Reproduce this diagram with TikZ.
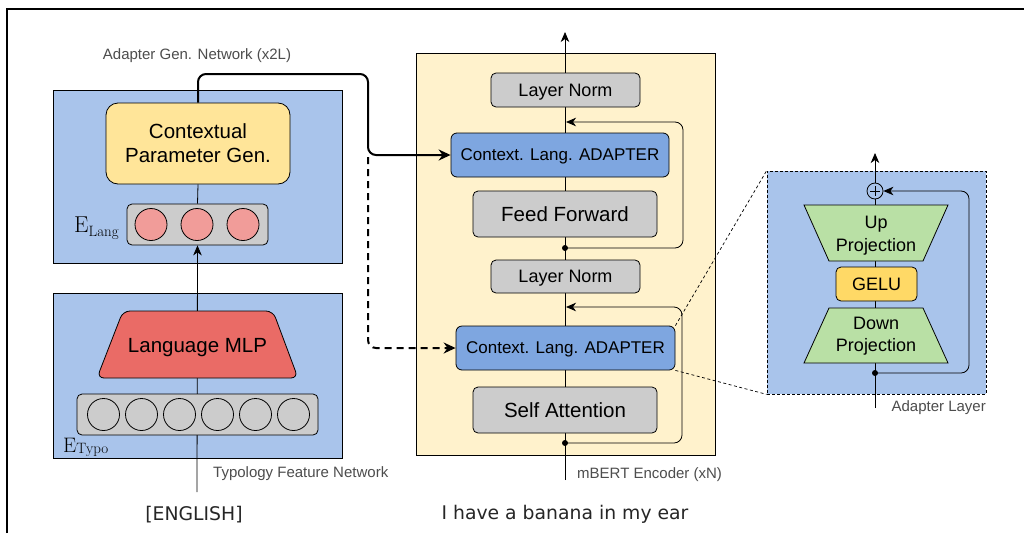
\documentclass[tikz,border=0pt]{standalone}
\usepackage{fontspec}
\newfontfamily\sansf{Liberation Sans}
\newfontfamily\dejavu{DejaVu Sans}
\usetikzlibrary{arrows.meta}
\definecolor{cblue}{HTML}{A9C4EB}
\definecolor{cyel}{HTML}{FFE599}
\definecolor{cenc}{HTML}{FFF2CC}
\definecolor{cgray}{HTML}{CCCCCC}
\definecolor{cad}{HTML}{7EA6E0}
\definecolor{cred}{HTML}{EA6B66}
\definecolor{cpink}{HTML}{F19C99}
\definecolor{cgreen}{HTML}{B9E0A5}
\definecolor{cgelu}{HTML}{FFD966}
\definecolor{ctext}{HTML}{4D4D4D}
\tikzset{
  bx/.style={draw=black, line width=0.8pt, inner sep=0pt, align=center},
  panel/.style={bx, fill=cblue},
  graybox/.style={bx, fill=cgray, rounded corners=5pt, text depth=0pt},
  adbox/.style={bx, fill=cad, rounded corners=6pt, text depth=0pt, font=\sansf\fontsize{17}{20}\selectfont},
  ringnode/.style={circle, draw=black, line width=0.8pt, minimum size=32pt, inner sep=0pt},
  dotnode/.style={circle, fill=black, minimum size=6pt, inner sep=0pt},
  f18/.style={font=\sansf\fontsize{18}{21}\selectfont},
  f20/.style={font=\sansf\fontsize{20.5}{24}\selectfont},
  lbl/.style={text=ctext, inner sep=0pt, font=\sansf\fontsize{15}{18}\selectfont},
  conn/.style={draw=black, line width=0.8pt},
  arr/.style={conn, -{Stealth[length=10pt,width=8.5pt,inset=3pt]}},
  thickarr/.style={draw=black, line width=2pt, rounded corners=8pt, -{Stealth[length=12pt,width=11pt,inset=4pt]}},
  zoomline/.style={draw=black, line width=0.7pt, dash pattern=on 3pt off 2.5pt},
  trap/.style={draw=black, line width=0.8pt},
  sentence/.style={inner sep=0pt, anchor=base, font=\dejavu\fontsize{18.8}{22}\selectfont, text=black!85},
}
\begin{document}
\begin{tikzpicture}[x=1pt,y=-1pt]
\useasboundingbox (0,0) rectangle (1024,533);
\fill[white] (0,0) rectangle (1024,533);
% outer frame
\draw[line width=2pt] (7,533) -- (7,9) -- (1024,9);

% ---------- left side ----------
\node[panel, minimum width=289, minimum height=173] (genbox) at (197.5,176.5) {};
\node[panel, minimum width=289, minimum height=165] (typobox) at (197.5,375.5) {};
\node[lbl, anchor=base] (genlbl) at (197,59) {Adapter Gen. Network (x2L)};
\node[graybox, minimum width=141, minimum height=41] (elang) at (197.5,224.5) {};
\node[bx, fill=cyel, rounded corners=12pt, minimum width=184, minimum height=81, f20] (cpg) at (198,143.5) {Contextual\\Parameter Gen.};
\coordinate (engin) at (197,492);
\draw[arr] (engin) -- (elang.south);
\draw[conn] (cpg.south) -- (elang.north);
\foreach \i/\x in {1/151,2/197,3/243} \node[ringnode, fill=cpink] (lc\i) at (\x,224.5) {};
\node[inner sep=0pt, anchor=base west] (elabel) at (74,232) {\fontsize{23}{23}\selectfont E\raisebox{-4pt}{\fontsize{15}{15}\selectfont Lang}};

\node[graybox, minimum width=241, minimum height=41] (typo) at (197.5,414.5) {};
\foreach \i/\x in {1/103.5,2/141.5,3/179.5,4/217.5,5/255.5,6/293.5} \node[ringnode, fill=cgray] (tc\i) at (\x,414.5) {};
\node[inner sep=0pt, anchor=base west] (etlabel) at (63,452) {\fontsize{21}{21}\selectfont E\raisebox{-1pt}{\fontsize{15}{15}\selectfont Typo}};
\draw[trap, fill=cred, rounded corners=7pt] (97,378) -- (123,311) -- (273,311) -- (298,378) -- cycle;
\node[f20, inner sep=0pt, text depth=0pt] (mlp) at (197.5,345) {Language MLP};
\node[lbl, anchor=base west] (typolbl) at (213,477) {Typology Feature Network};
\node[sentence] (eng) at (194,520) {[ENGLISH]};

% ---------- encoder ----------
\node[bx, fill=cenc, minimum width=299, minimum height=402] (enc) at (565.5,254) {};
\coordinate (encin) at (565,480);
\coordinate (encout) at (565,32);
\draw[arr] (encin) -- (encout);
\node[graybox, minimum width=149, minimum height=34, f18] (ln1) at (565.5,90) {Layer Norm};
\node[adbox, minimum width=218, minimum height=44] (ad1) at (560,155) {Context. Lang. ADAPTER};
\node[graybox, minimum width=184, minimum height=46, f20] (ff) at (565,214) {Feed Forward};
\node[graybox, minimum width=149, minimum height=33, f18] (ln2) at (565.5,276.5) {Layer Norm};
\node[adbox, minimum width=219, minimum height=44] (ad2) at (565.5,348) {Context. Lang. ADAPTER};
\node[graybox, minimum width=184, minimum height=46, f20] (sa) at (565,410) {Self Attention};
\node[dotnode] (d1) at (565,248) {};
\node[dotnode] (d2) at (565,443) {};
\coordinate (r1) at (566,122);
\coordinate (r2) at (566,307);
\draw[arr, rounded corners=8pt] (d1.center) -- (683,248) -- (683,122) -- (r1);
\draw[arr, rounded corners=8pt] (d2.center) -- (682,443) -- (682,307) -- (r2);
\node[lbl, anchor=base west] (enclbl) at (577,478) {mBERT Encoder (xN)};
\node[sentence] (sent) at (565,519) {I have a banana in my ear};

% ---------- generator connectors ----------
\draw[thickarr] (cpg.north) |- (368,74) |- (ad1.west);
\draw[thickarr, dashed, dash pattern=on 7pt off 5pt] (368,157) |- (ad2.west);

% ---------- adapter layer ----------
\node[bx, fill=cblue, minimum width=219, minimum height=223, line width=0.7pt, dash pattern=on 3pt off 2pt] (alay) at (876.5,282.5) {};
\draw[zoomline] (ad2.north east) -- (alay.north west);
\draw[zoomline] (ad2.south east) -- (alay.south west);
\coordinate (ain) at (875,408);
\coordinate (aout) at (875,153);
\draw[arr] (ain) -- (aout);
\draw[trap, fill=cgreen] (804,205) -- (948,205) -- (923,261) -- (829,261) -- cycle;
\node[inner sep=0pt, align=center, font=\sansf\fontsize{18}{23}\selectfont] (up) at (876,236) {Up\\Projection};
\node[graybox, fill=cgelu, minimum width=81, minimum height=34, f18] (gelu) at (876.5,284) {GELU};
\draw[trap, fill=cgreen] (829,308) -- (923,308) -- (948,363) -- (804,363) -- cycle;
\node[inner sep=0pt, align=center, font=\sansf\fontsize{18}{22}\selectfont] (down) at (876,336) {Down\\Projection};
\node[circle, draw=black, line width=0.8pt, fill=cblue, minimum size=16pt, inner sep=0pt] (plus) at (875,191) {};
\draw[line width=0.8pt] (870,191) -- (880,191) (875,186) -- (875,196);
\node[dotnode] (d3) at (875,373) {};
\draw[arr, rounded corners=8pt] (d3.center) -- (969,373) -- (969,191) -- (plus.east);
\node[lbl, anchor=base east] (allbl) at (986,411) {Adapter Layer};
\end{tikzpicture}
\end{document}
